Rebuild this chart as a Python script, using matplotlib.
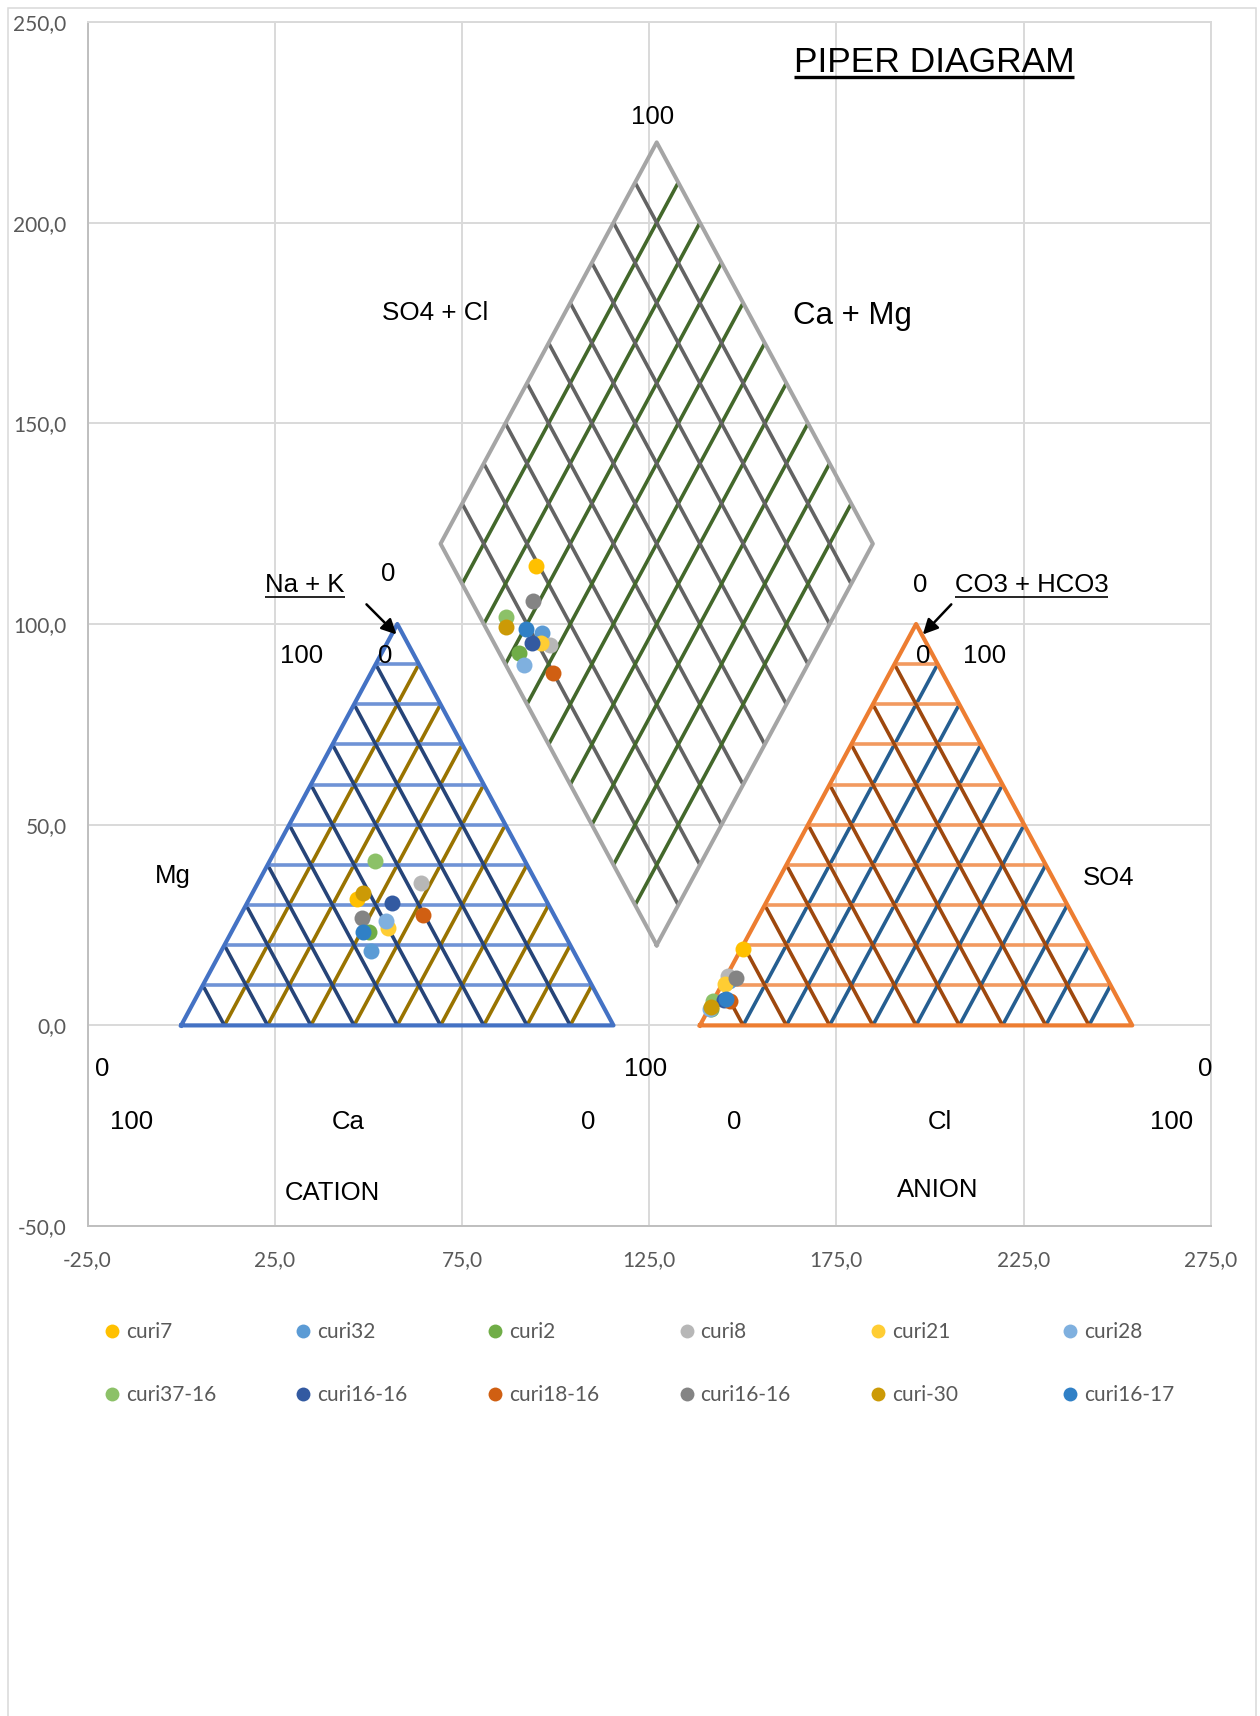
import numpy as np
import matplotlib.pyplot as plt
from matplotlib.lines import Line2D
from matplotlib.patches import Rectangle
from matplotlib.ticker import FuncFormatter

# samples (one colour per sample, legend order)
names = ['curi7', 'curi32', 'curi2', 'curi8', 'curi21', 'curi28',
         'curi37-16', 'curi16-16', 'curi18-16', 'curi16-16', 'curi-30', 'curi16-17']
colors = ['#FFC000', '#5B9BD5', '#70AD47', '#B7B7B7', '#FFCD33', '#7FB0DF',
          '#8CC168', '#335AA1', '#D05F12', '#848484', '#CC9A06', '#3080C6']

# plotted positions in chart units
cation_x = [47.0, 50.7, 50.1, 64.0, 55.2, 54.8, 51.7, 56.2, 64.5, 48.4, 48.5, 48.7]
cation_y = [31.4, 18.6, 23.2, 35.6, 24.3, 25.9, 40.9, 30.6, 27.4, 26.8, 33.1, 23.2]
anion_x = [150.0, 146.4, 141.5, 146.0, 145.2, 141.3, 142.1, 145.0, 146.5, 148.3, 141.4, 145.5]
anion_y = [19.1, 11.0, 4.0, 12.3, 10.2, 4.0, 6.0, 6.3, 6.0, 11.7, 4.5, 6.5]
diamond_x = [94.9, 96.3, 90.2, 98.4, 96.1, 91.7, 86.8, 93.6, 99.2, 94.0, 86.7, 92.2]
diamond_y = [114.5, 97.7, 92.8, 94.7, 95.2, 89.9, 101.8, 95.3, 87.9, 105.8, 99.3, 98.8]

xticks = np.arange(-25, 276, 50)
yticks = np.arange(-50, 251, 50)

# piper geometry
S = 200 / np.sqrt(3)      # triangle side (height 100)
GAP = 0.2 * S
AN0 = S + GAP             # left corner of anion triangle
K = 1 / np.sqrt(3)

FONT = 'Liberation Sans'
TICKFONT = 'Lato'
LW = 2.6

fig = plt.figure(figsize=(12.6, 17.16), dpi=100)
ax = fig.add_axes([0.0695, 0.2855, 0.8914, 0.7017])
ax.set_xlim(-25, 275)
ax.set_ylim(-50, 250)
ax.set_xticks(xticks)
ax.set_yticks(yticks)
fmt = FuncFormatter(lambda v, p: f"{v:.1f}".replace('.', ','))
ax.xaxis.set_major_formatter(fmt)
ax.yaxis.set_major_formatter(fmt)
ax.tick_params(length=0, labelsize=15, labelcolor='#595959')
ax.tick_params(axis='y', pad=15)
ax.tick_params(axis='x', pad=17)
for lab in ax.get_xticklabels() + ax.get_yticklabels():
    lab.set_family(TICKFONT)
ax.grid(True, color='#D9D9D9', lw=1.4)
ax.set_axisbelow(True)
for side in ['top', 'right']:
    ax.spines[side].set_color('#D9D9D9')
for side in ['left', 'bottom']:
    ax.spines[side].set_color('#BFBFBF')
for sp in ax.spines.values():
    sp.set_linewidth(1.4)


def triangle(x0, c_out, c_h, c_up, c_down):
    for i in range(1, 10):
        a = x0 + i * S / 10
        # lines parallel to the left side
        ax.plot([a, a + (x0 + S - a) / 2], [0, (x0 + S - a) / S * 100],
                color=c_up, lw=LW, solid_capstyle='butt', zorder=2)
        # lines parallel to the right side
        ax.plot([a, x0 + (a - x0) / 2], [0, (a - x0) / S * 100],
                color=c_down, lw=LW, solid_capstyle='butt', zorder=2)
        y = i * 10
        ax.plot([x0 + K * y, x0 + S - K * y], [y, y], color=c_h, lw=LW,
                solid_capstyle='butt', zorder=2)
    ax.plot([x0, x0 + S, x0 + S / 2, x0], [0, 0, 100, 0], color=c_out,
            lw=3.0, solid_joinstyle='round', zorder=3)


triangle(0, '#4472C4', '#6F93D6', '#997300', '#264478')
triangle(AN0, '#ED7D31', '#F29A60', '#255E91', '#9E480E')

# diamond
bot = np.array([S + GAP / 2, GAP / 2 * np.sqrt(3)])
left = bot + [-S / 2, 100]
right = bot + [S / 2, 100]
top = bot + [0, 200]
for i in range(1, 10):
    f = i / 10
    p = left + f * (bot - left)
    q = top + f * (right - top)
    ax.plot([p[0], q[0]], [p[1], q[1]], color='#43682B', lw=LW,
            solid_capstyle='butt', zorder=2)
    p = left + f * (top - left)
    q = bot + f * (right - bot)
    ax.plot([p[0], q[0]], [p[1], q[1]], color='#636363', lw=LW,
            solid_capstyle='butt', zorder=2)
d = np.array([bot, right, top, left, bot])
ax.plot(d[:, 0], d[:, 1], color='#A5A5A5', lw=2.9, solid_joinstyle='round', zorder=3)

# samples
handles = []
for i, name in enumerate(names):
    ax.plot([cation_x[i], anion_x[i], diamond_x[i]],
            [cation_y[i], anion_y[i], diamond_y[i]],
            ls='none', marker='o', ms=11.5, mew=0, color=colors[i], zorder=5)
    handles.append(Line2D([], [], ls='none', marker='o', ms=10, mew=0,
                          color=colors[i], label=name))


def label(x, y, s, size=18.5):
    return ax.text(x, y, s, ha='center', va='baseline', fontsize=size,
                   family=FONT, color='black', zorder=6)


label(-21.2, -12.6, '0')
label(-13.25, -25.9, '100')
label(44.5, -25.9, 'Ca')
label(108.8, -25.9, '0')
label(40.3, -43.5, 'CATION')
label(124.1, -12.6, '100')
label(147.6, -25.9, '0')
label(202.7, -25.9, 'Cl')
label(264.6, -25.9, '100')
label(273.6, -12.6, '0')
label(202.0, -42.7, 'ANION')
label(-2.1, 35.4, 'Mg')
label(247.7, 35.0, 'SO4')
label(55.2, 110.8, '0')
label(32.1, 90.2, '100')
label(54.5, 90.2, '0')
label(197.4, 108.05, '0')
label(198.3, 90.2, '0')
label(214.7, 90.2, '100')
label(125.9, 224.6, '100')
label(67.7, 175.7, 'SO4 + Cl', 18.7)
label(179.3, 174.7, 'Ca + Mg', 22.5)

under = [(201.1, 237.6, 'PIPER DIAGRAM', 25.5, 1.4, 2.4),
         (33.05, 108.05, 'Na + K', 18.5, 1.4, 1.2),
         (227.1, 108.05, 'CO3 + HCO3', 18.5, 1.3, 1.2)]
texts = [(label(x, y, s, fs), y, off, lw) for x, y, s, fs, off, lw in under]
fig.canvas.draw()
inv = ax.transData.inverted()
for t, y, off, lw in texts:
    bb = t.get_window_extent()
    xa = inv.transform((bb.x0, 0))[0]
    xb = inv.transform((bb.x1, 0))[0]
    ax.plot([xa, xb], [y - off, y - off], color='black', lw=lw,
            solid_capstyle='butt', clip_on=False, zorder=6)

# arrows to the apex of each triangle
arrow = dict(arrowstyle='-|>,head_length=0.9,head_width=0.45', color='black', lw=1.8,
             shrinkA=0, shrinkB=0)
ax.annotate('', xy=(57.5, 97.4), xytext=(49.5, 104.9), arrowprops=arrow, zorder=6)
ax.annotate('', xy=(198.1, 97.4), xytext=(205.7, 104.9), arrowprops=arrow, zorder=6)

# legend, six columns of two rows
col_x = [111.7, 303.3, 494.9, 686.5, 878.1, 1069.7]
for c in range(6):
    fig.legend(handles=[handles[c], handles[c + 6]], loc='center left',
               bbox_to_anchor=((col_x[c] - 7.8) / 1260, 1 - 1363.5 / 1716),
               frameon=False, borderpad=0, borderaxespad=0, handlelength=0.75,
               handletextpad=0.3, labelspacing=2.05,
               prop={'family': TICKFONT, 'size': 15}, labelcolor='#595959')

fig.patches.append(Rectangle((7.7 / 1260, -0.01), (1255.6 - 7.7) / 1260,
                             1.01 - 7.7 / 1716, transform=fig.transFigure,
                             fill=False, ec='#D9D9D9', lw=1.1))

fig.savefig('out.png', dpi=100)
